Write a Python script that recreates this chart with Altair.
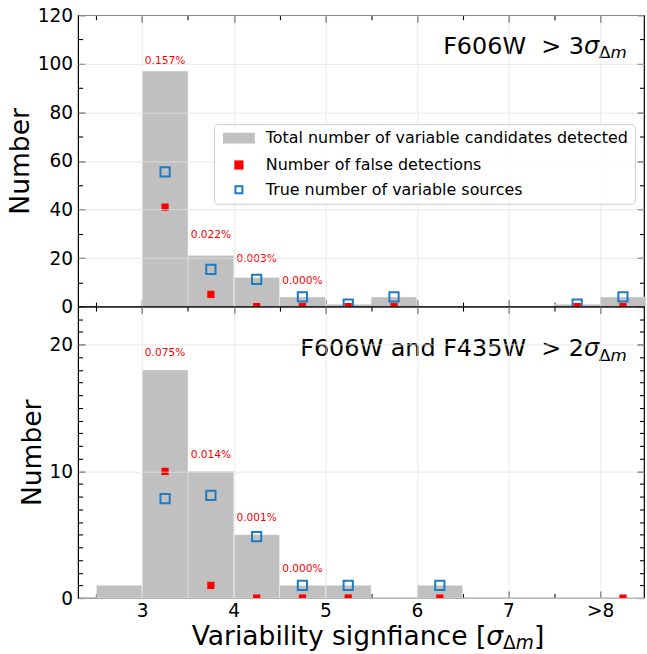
import altair as alt
import pandas as pd

# ---------------- data ----------------
bin_lo = [2.5, 3.0, 3.5, 4.0, 4.5, 5.0, 5.5, 6.0, 6.5, 7.0, 7.5, 8.0]
bin_hi = [3.0, 3.5, 4.0, 4.5, 5.0, 5.5, 6.0, 6.5, 7.0, 7.5, 8.0, 8.5]
top_total = [0, 97, 21, 12, 4, 1, 4, 0, 0, 0, 1, 4]
bot_total = [1, 18, 10, 5, 1, 1, 0, 1, 0, 0, 0, 0]

top_mx = [3.25, 3.75, 4.25, 4.75, 5.25, 5.75, 7.75, 8.25]
top_false = [41, 5, 0, 0, 0, 0, 0, 0]
top_true = [55.5, 15.3, 11.2, 4, 1, 4, 1, 4]

bot_fx = [3.25, 3.75, 4.25, 4.75, 5.25, 6.25, 8.25]
bot_false = [10, 1, 0, 0, 0, 0, 0]
bot_tx = [3.25, 3.75, 4.25, 4.75, 5.25, 6.25]
bot_true = [7.85, 8.1, 4.85, 1, 1, 1]

pct_x = [3.25, 3.75, 4.25, 4.75]
top_pct_y = [101, 29.4, 19.5, 10.4]
top_pct = ["0.157%", "0.022%", "0.003%", "0.000%"]
bot_pct_y = [19.3, 11.3, 6.3, 2.3]
bot_pct = ["0.075%", "0.014%", "0.001%", "0.000%"]

x_major = [3, 4, 5, 6, 7, 8]
x_major_labels = ["3", "4", "5", "6", "7", ">8"]
x_minor = [2.5, 3.5, 4.5, 5.5, 6.5, 7.5]
top_y_major = [0, 20, 40, 60, 80, 100, 120]
top_y_minor = [10, 30, 50, 70, 90, 110]
bot_y_major = [0, 10, 20]
bot_y_minor = [1, 2, 3, 4, 5, 6, 7, 8, 9, 11, 12, 13, 14, 15, 16, 17, 18, 19, 21, 22]

legend_labels = ["Total number of variable candidates detected",
                 "Number of false detections",
                 "True number of variable sources"]

# ---------------- style ----------------
FONT = "DejaVu Sans"
GRAY = "#c0c0c0"
RED = "#ff0000"
BLUE = "#1f7bbf"
W, H = 569, 293
MAJ, MIN = 7, 4.5
X_DOMAIN = [2.3, 8.48]
NB = "\u00a0"

label_expr = " : ".join(
    [f"datum.value == {v} ? '{l}'" for v, l in zip(x_major, x_major_labels)] + ["datum.label"]
)


def tick_axis(orient, values, size, labels=False, **kw):
    return alt.Axis(orient=orient, values=values, tickSize=size, offset=-size,
                    domain=False, grid=False, labels=labels, ticks=True,
                    tickColor="black", tickWidth=1.1, **kw)


def grid_axis(orient, values):
    return alt.Axis(orient=orient, values=values, grid=True, ticks=False,
                    labels=False, domain=False, title=None, zindex=1,
                    gridColor="#e3e3e3", gridOpacity=0.75, gridWidth=1)


def text_run(txt, x, y, size, italic=False, align="left"):
    kw = dict(fontSize=size, font=FONT, color="black", align=align, baseline="alphabetic")
    if italic:
        kw["fontStyle"] = "italic"
    return alt.Chart(pd.DataFrame({"t": [txt]})).mark_text(**kw).encode(
        text="t:N", x=alt.value(x), y=alt.value(y))


def math_label(main, sym, sub1, sub2, xs, y, size, sub_dy, tail=None):
    """main text right-aligned at xs, then italic sigma and subscript Δm."""
    ssize = 0.7 * size
    layers = [text_run(main, xs, y, size, align="right"),
              text_run(sym, xs, y, size, italic=True)]
    xd = xs + 0.636 * size
    layers.append(text_run(sub1, xd, y + sub_dy, ssize))
    xm = xd + 0.684 * ssize
    layers.append(text_run(sub2, xm, y + sub_dy, ssize, italic=True))
    if tail is not None:
        layers.append(text_run(tail, xm + 0.974 * ssize, y, size))
    return layers


def panel(total, mx_f, vf, mx_t, vt, pct_y, pct, y_dom, y_major, y_minor, xlabels, note_layers, extra=None):
    xs = alt.Scale(domain=X_DOMAIN, nice=False, zero=False)
    ys = alt.Scale(domain=y_dom, nice=False, zero=False)
    bars_df = pd.DataFrame({"lo": bin_lo, "hi": bin_hi, "total": total})
    bars = alt.Chart(bars_df).mark_rect(color=GRAY, stroke="white", strokeOpacity=0.35, strokeWidth=1).encode(
        x=alt.X("lo:Q", scale=xs, axis=grid_axis("bottom", x_major)),
        x2="hi:Q",
        y=alt.Y("total:Q", scale=ys, axis=grid_axis("left", y_major)),
        y2=alt.datum(0),
    )
    bars_ticks = alt.Chart(bars_df).mark_rect(opacity=0).encode(
        x=alt.X("lo:Q", scale=xs, axis=tick_axis("top", x_minor, MIN, title=None)),
        y=alt.Y("total:Q", scale=ys, axis=tick_axis("right", y_minor, MIN, title=None)),
    )
    blue = alt.Chart(pd.DataFrame({"x": mx_t, "v": vt})).mark_point(
        shape="square", size=86, filled=False, stroke=BLUE, strokeWidth=2, opacity=1, clip=True).encode(
        x=alt.X("x:Q", scale=xs, axis=tick_axis("bottom", x_minor, MIN, title=None)),
        y=alt.Y("v:Q", scale=ys, axis=tick_axis("left", y_minor, MIN, title=None)),
    )
    if xlabels:
        xax = tick_axis("bottom", x_major, MAJ, labels=True, labelExpr=label_expr,
                        labelPadding=4, title=None)
    else:
        xax = tick_axis("bottom", x_major, MAJ, title=None)
    red = alt.Chart(pd.DataFrame({"x": mx_f, "v": vf})).mark_point(
        shape="square", size=53, filled=True, color=RED, opacity=1, strokeWidth=0, clip=True).encode(
        x=alt.X("x:Q", scale=xs, axis=xax),
        y=alt.Y("v:Q", scale=ys, axis=tick_axis("left", y_major, MAJ, labels=True, labelPadding=5.5,
                                                title="Number", titlePadding=3)),
    )
    txt = alt.Chart(pd.DataFrame({"x": pct_x, "y": pct_y, "t": pct})).mark_text(
        color=RED, fontSize=10.67, font=FONT, baseline="middle").encode(
        x=alt.X("x:Q", scale=xs, axis=tick_axis("top", x_major, MAJ, title=None)),
        y=alt.Y("y:Q", scale=ys, axis=tick_axis("right", y_major, MAJ, title=None)),
        text="t:N",
    )
    layers = [bars, bars_ticks, blue, red, txt] + note_layers
    if extra is not None:
        layers.append(extra)
    return alt.layer(*layers).resolve_axis(x="independent", y="independent").properties(width=W, height=H)


# legend (drawn by Vega-Lite from scale domains only)
patch = "M-2.91,-1H2.91V1H-2.91Z"
leg = alt.Legend(title=None, orient="none", legendX=136.7, legendY=109.6, labelFontSize=16,
                 labelFont=FONT, labelColor="black", symbolStrokeWidth=2, rowPadding=8,
                 padding=6, strokeColor="#cccccc", fillColor="rgba(255,255,255,0.8)",
                 cornerRadius=3, symbolOffset=11, labelOffset=19, labelLimit=0,
                 symbolOpacity=1)
legend_layer = alt.Chart(pd.DataFrame({"series": legend_labels})).transform_filter("false").mark_point(
    filled=True, strokeWidth=2, opacity=1).encode(
    fill=alt.Fill("series:O", scale=alt.Scale(domain=legend_labels, range=[GRAY, RED, "transparent"]), legend=leg),
    stroke=alt.Stroke("series:O", scale=alt.Scale(domain=legend_labels, range=["transparent", "transparent", BLUE]), legend=leg),
    shape=alt.Shape("series:O", scale=alt.Scale(domain=legend_labels, range=[patch, "square", "square"]), legend=leg),
    size=alt.Size("series:O", scale=alt.Scale(domain=legend_labels, range=[121, 49, 86]), legend=leg),
)

ANCHOR = 551.7
ANN = 24
sig_x = ANCHOR - 0.636 * ANN - 0.7 * ANN * (0.684 + 0.974)
top_note = math_label(f"F606W{NB}{NB}>{NB}3", "σ", "Δ", "m", sig_x, 39, ANN, 4.3)
bot_note = math_label(f"F606W and F435W{NB}{NB}>{NB}2", "σ", "Δ", "m", sig_x, 50, ANN, 4.3)

TF = 26.67
xt_sig = 112 + 11.188 * TF
x_title = math_label("Variability signfiance [", "σ", "Δ", "m", xt_sig, 340, TF, 4.0, tail="]")

top = panel(top_total, top_mx, top_false, top_mx, top_true, top_pct_y, top_pct, [0, 120],
            top_y_major, top_y_minor, False, top_note, legend_layer)
bottom = panel(bot_total, bot_fx, bot_false, bot_tx, bot_true, bot_pct_y, bot_pct, [0, 23],
               bot_y_major, bot_y_minor, True, bot_note + x_title)

chart = alt.vconcat(top, bottom, spacing=0, bounds="flush").properties(
    padding={"left": 6.5, "top": 3.5, "right": 0, "bottom": 0}
).configure_view(stroke="black", strokeWidth=1.2).configure_axis(
    labelFont=FONT, labelFontSize=18.67, labelColor="black", titleFont=FONT,
    titleFontSize=26.67, titleFontWeight="normal", titleColor="black",
    labelFlush=False, labelOverlap=False
)

chart.save("out.html", embed_options={"renderer": "svg", "actions": False})
